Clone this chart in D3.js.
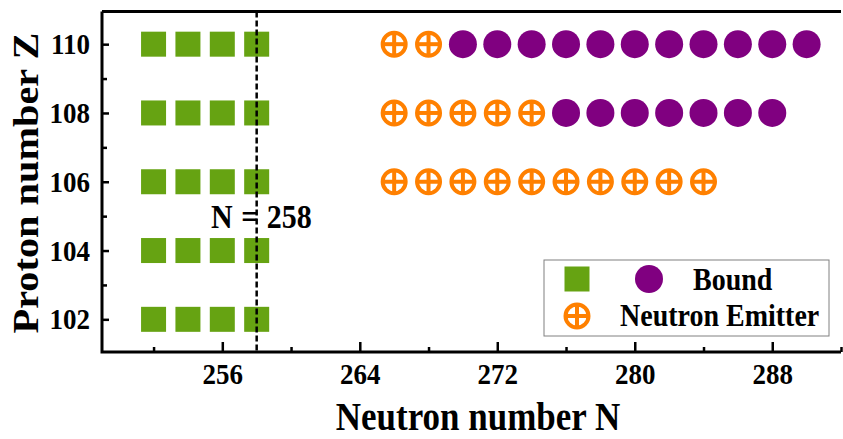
<!DOCTYPE html>
<html><head><meta charset="utf-8">
<script src="https://cdn.jsdelivr.net/npm/d3@7"></script>
<style>
body{margin:0;background:#fff;}
svg text{font-family:"Liberation Serif","Times New Roman",serif;font-weight:bold;fill:#000;}
</style></head>
<body><svg id="c" width="843" height="439"></svg>
<script>
// ---- data ----
const squareN = [252, 254, 256, 258];
const squareZ = [102, 104, 106, 108, 110];
const emitterZ110 = [266, 268];
const boundZ110 = [270, 272, 274, 276, 278, 280, 282, 284, 286, 288, 290];
const emitterZ108 = [266, 268, 270, 272, 274];
const boundZ108 = [276, 278, 280, 282, 284, 286, 288];
const emitterZ106 = [266, 268, 270, 272, 274, 276, 278, 280, 282, 284];
const xMajorTicks = [256, 264, 272, 280, 288];
const xMinorTicks = [252, 260, 268, 276, 284, 292];
const yMajorTicks = [102, 104, 106, 108, 110];
const yMinorTicks = [103, 105, 107, 109];
const dividerN = 258;

const GREEN = "#66A312", PURPLE = "#800080", ORANGE = "#FF8000";
const SY = 1.12; // vertical stretch of the text

const svg = d3.select("#c");
const L = 102, R = 841, T = 11.5, B = 352;
const x = d3.scaleLinear().domain([249, 292]).range([L, R]);
const y = d3.scaleLinear().domain([101.05, 110.95]).range([B, T]);

function label(sel, tx, ty, txt, size, anchor){
  return sel.append("text").attr("transform", `translate(${tx},${ty}) scale(1,${SY})`)
    .attr("font-size", size).attr("text-anchor", anchor || "start").text(txt);
}

// points
const squares = [];
squareZ.forEach(z => squareN.forEach(n => squares.push({n, z})));
const bound = [...boundZ110.map(n => ({n, z:110})), ...boundZ108.map(n => ({n, z:108}))];
const emit = [...emitterZ110.map(n => ({n, z:110})), ...emitterZ108.map(n => ({n, z:108})), ...emitterZ106.map(n => ({n, z:106}))];

const S = 25;
svg.append("g").selectAll("rect").data(squares).join("rect")
  .attr("x", d => x(d.n) - S/2).attr("y", d => y(d.z) - S/2)
  .attr("width", S).attr("height", S).attr("fill", GREEN);

svg.append("g").selectAll("circle").data(bound).join("circle")
  .attr("cx", d => x(d.n)).attr("cy", d => y(d.z)).attr("r", 14).attr("fill", PURPLE);

function emitter(g){
  g.append("circle").attr("r", 11.5).attr("fill", "#fff").attr("stroke", ORANGE).attr("stroke-width", 4);
  g.append("line").attr("x1", -11).attr("x2", 11).attr("stroke", ORANGE).attr("stroke-width", 4);
  g.append("line").attr("y1", -11).attr("y2", 11).attr("stroke", ORANGE).attr("stroke-width", 4);
}
svg.append("g").selectAll("g").data(emit).join("g")
  .attr("transform", d => `translate(${x(d.n)},${y(d.z)})`)
  .each(function(){ emitter(d3.select(this)); });

// dashed divider
svg.append("line").attr("x1", x(dividerN)).attr("x2", x(dividerN))
  .attr("y1", T).attr("y2", B).attr("stroke", "#000").attr("stroke-width", 2.5)
  .attr("stroke-dasharray", "6,3");
label(svg, 211, 228, "N = 258", 30).attr("word-spacing", 1);

// axes
const xAx = svg.append("g").attr("transform", `translate(0,${B})`)
  .call(d3.axisBottom(x).tickValues(xMajorTicks).tickSize(-10).tickFormat(d3.format("d")));
svg.append("g").attr("transform", `translate(0,${B})`)
  .call(d3.axisBottom(x).tickValues(xMinorTicks).tickSize(-5).tickFormat(""));
const yAx = svg.append("g").attr("transform", `translate(${L},0)`)
  .call(d3.axisLeft(y).tickValues(yMajorTicks).tickSize(-7).tickFormat(d3.format("d")));
svg.append("g").attr("transform", `translate(${L},0)`)
  .call(d3.axisLeft(y).tickValues(yMinorTicks).tickSize(-5).tickFormat(""));
svg.selectAll(".domain").remove();
svg.selectAll(".tick line").attr("stroke", "#000").attr("stroke-width", 2.5);
xAx.selectAll(".tick text").attr("font-size", 27).attr("y", 0).attr("dy", 0)
  .attr("transform", `translate(0,32) scale(1,${SY})`).attr("font-family", "Liberation Serif").attr("font-weight", "bold");
yAx.selectAll(".tick text").attr("font-size", 27).attr("x", 0).attr("dy", 0)
  .attr("transform", `translate(-12,9.5) scale(1,${SY})`)
  .attr("font-family", "Liberation Serif").attr("font-weight", "bold");

// frame lines (left, bottom, top)
svg.append("path").attr("d", `M${L},${T}V${B}H${R}M${L},${T}H${R}`)
  .attr("fill", "none").attr("stroke", "#000").attr("stroke-width", 3);

// axis titles
label(svg, 478, 430, "Neutron number N", 35, "middle");
svg.append("text").attr("transform", `translate(38,183) rotate(-90) scale(${SY},1)`).attr("text-anchor", "middle")
  .attr("font-size", 36).text("Proton number Z");

// legend
const lg = svg.append("g");
lg.append("rect").attr("x", 544).attr("y", 260).attr("width", 285).attr("height", 76)
  .attr("fill", "#fff").attr("stroke", "#808080").attr("stroke-width", 1);
lg.append("rect").attr("x", 577 - S/2).attr("y", 279 - S/2).attr("width", S).attr("height", S).attr("fill", GREEN);
lg.append("circle").attr("cx", 649).attr("cy", 279).attr("r", 14).attr("fill", PURPLE);
label(lg, 693, 290, "Bound", 28);
const le = lg.append("g").attr("transform", "translate(577,316)");
emitter(le);
label(lg, 620, 326, "Neutron Emitter", 28);
</script></body></html>
